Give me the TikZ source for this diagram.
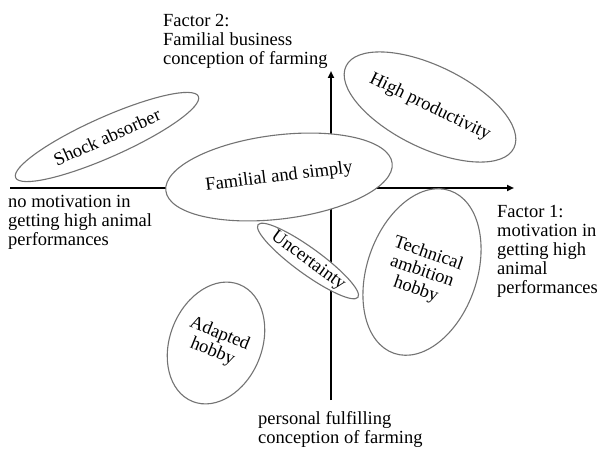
\documentclass[tikz,border=0pt]{standalone}
\usepackage{fontspec}
\setmainfont{Liberation Serif}
\usetikzlibrary{arrows.meta,shapes.geometric}
\begin{document}
\begin{tikzpicture}[x=1pt, y=1pt,
    every node/.style={font=\fontsize{18.5}{19}\selectfont},
    axis/.style={line width=1.8pt, -{Triangle[length=7pt,width=6pt]}},
    axistext/.style={anchor=base west, align=left, inner sep=0pt},
    typology/.style={ellipse, draw=black!55, line width=1.1pt, fill=white, inner sep=0pt, align=center}]
    \useasboundingbox (0,0) rectangle (598,451);

    % Axes
    \coordinate (west) at (10,263);
    \coordinate (east) at (514,263);
    \coordinate (south) at (331,51);
    \coordinate (north) at (331,380);
    \draw[axis] (west) -- (east);
    \draw[axis] (south) -- (north);

    % Axis texts (anchored on their last line)
    \node[axistext] (factortwo) at (163,386) {Factor 2:\\Familial business\\conception of farming};
    \node[axistext] (nomotivation) at (8,206) {no motivation in\\getting high animal\\performances};
    \node[axistext] (factorone) at (497,158) {Factor 1:\\motivation in\\getting high\\animal\\performances};
    \node[axistext] (personal) at (258,8) {personal fulfilling\\conception of farming};

    % Typologies
    \node[typology, minimum width=200pt, minimum height=40pt, rotate=24] (shock) at (107,314) {Shock absorber};
    \node[typology, minimum width=228pt, minimum height=84pt, rotate=7] (familial) at (279,274) {Familial and simply};
    \node[typology, minimum width=184pt, minimum height=82pt, rotate=-26] (high) at (430,344) {High productivity};
    \node[typology, minimum width=104pt, minimum height=26pt, rotate=-36] (uncertainty) at (308,190) {Uncertainty};
    \node[typology, minimum width=110pt, minimum height=172pt, rotate=-19] (technical) at (422,179) {Technical\\ambition\\hobby};
    \node[typology, minimum width=92pt, minimum height=126pt, rotate=-22] (adapted) at (216,108) {Adapted\\hobby};
\end{tikzpicture}
\end{document}
